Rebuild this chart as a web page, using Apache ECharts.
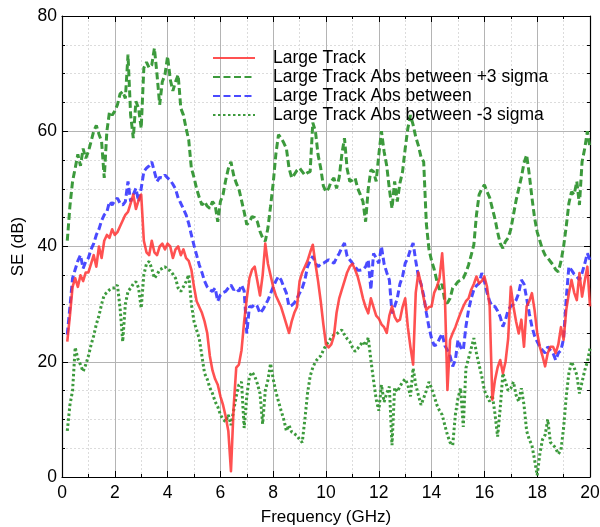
<!DOCTYPE html>
<html>
<head>
<meta charset="utf-8">
<script src="https://cdn.jsdelivr.net/npm/echarts@6/dist/echarts.min.js"></script>
<style>
  html, body { margin: 0; padding: 0; background: #fff; }
  #chart { width: 600px; height: 527px; }
</style>
</head>
<body>
<div id="chart"></div>
<script>
// Frequency grid (GHz)
const freq = [
  0.2,0.3,0.4,0.5,0.6,0.7,0.8,0.9,
  1.0,1.1,1.2,1.3,1.4,1.5,1.6,1.7,1.8,1.9,
  2.0,2.1,2.2,2.3,2.4,2.5,2.6,2.7,2.8,2.9,
  3.0,3.1,3.2,3.3,3.4,3.5,3.6,3.7,3.8,3.9,
  4.0,4.1,4.2,4.3,4.4,4.5,4.6,4.7,4.8,4.9,
  5.0,5.1,5.2,5.3,5.4,5.5,5.6,5.7,5.8,5.9,
  6.0,6.1,6.2,6.3,6.4,6.5,6.6,6.7,6.8,6.9,
  7.0,7.1,7.2,7.3,7.4,7.5,7.6,7.7,7.8,7.9,
  8.0,8.1,8.2,8.3,8.4,8.5,8.6,8.7,8.8,8.9,
  9.0,9.1,9.2,9.3,9.4,9.5,9.6,9.7,9.8,9.9,
  10.0,10.1,10.2,10.3,10.4,10.5,10.6,10.7,10.8,10.9,
  11.0,11.1,11.2,11.3,11.4,11.5,11.6,11.7,11.8,11.9,
  12.0,12.1,12.2,12.3,12.4,12.5,12.6,12.7,12.8,12.9,
  13.0,13.1,13.2,13.3,13.4,13.5,13.6,13.7,13.8,13.9,
  14.0,14.1,14.2,14.3,14.4,14.5,14.6,14.7,14.8,14.9,
  15.0,15.1,15.2,15.3,15.4,15.5,15.6,15.7,15.8,15.9,
  16.0,16.1,16.2,16.3,16.4,16.5,16.6,16.7,16.8,16.9,
  17.0,17.1,17.2,17.3,17.4,17.5,17.6,17.7,17.8,17.9,
  18.0,18.1,18.2,18.3,18.4,18.5,18.6,18.7,18.8,18.9,
  19.0,19.1,19.2,19.3,19.4,19.5,19.6,19.7,19.8,19.9,
  20.0
];

// Shielding effectiveness, Large Track (dB)
const largeTrack = [
  23.5,28,33,34.5,33,35,34,35.5,
  35.5,37,38.5,36.5,40,38,41,42,41.5,43,
  42,42.5,43.5,44.5,45.5,46,47.5,49,46.5,48,
  49,41,39,38.5,41,39,38.5,40,40.5,39.5,
  40.5,40,38,39.5,40,38.5,39.5,38,37.5,36,
  33,30.5,29.5,28.5,27,25,21,18.5,17,16,
  14,12.5,10.5,8,1,12,19,19.5,22,27,
  31,34.5,36,36.5,34,31.5,35,40.5,37,35,
  33,31.5,30.5,29.5,28,26.5,25,27,28.5,29.5,
  34,35.5,36.5,37.5,39,40.3,37,34,30.5,26.5,
  23,22.5,23,24.5,28.5,31,32.5,34,35.5,36.5,
  37,36,34.8,33,31,29.5,28.4,31,29.5,28,
  27.5,26.5,26,25,28,29.6,27.8,27,27.3,29.5,
  31,26,22.5,19.5,32,35.5,33.5,31,29,29.5,
  29.6,32,33,34.5,38.8,32,15.1,23.8,25,26,
  27.3,28.5,29.6,30.5,31,32.5,33.5,34.8,33.6,34,
  34.8,33,29.6,13.4,16.8,19,20.3,18,20,24,
  33,29.6,27,24.9,27.3,22.6,29.6,30.5,31.9,29,
  25,22.6,21,19.2,21.5,22.6,22.6,21.5,23,26,
  23.8,29,31.9,34.2,32,30.7,35.4,31.3,34,36.5,
  29.6
];

// Large Track Abs between +3 sigma (dB)
const absPlus3 = [
  41,47,51.3,53.6,56,54,57,55.3,
  56.5,58.2,60,61,59.5,58.2,51.9,60,63.4,62.8,
  63.5,64.6,66.5,66.9,65.7,73.3,62.8,58.8,65.2,64,
  60.5,71,72,71,71.5,74.4,69.8,64.6,68.6,69.8,
  73,69,67,68.6,69.8,64,62.8,60.5,58.5,53.6,
  52,50,48.5,47.2,47.8,47,46.6,47.8,47.2,44.3,
  47.8,49,51.5,53.5,54.7,52.4,51,50,48,46,
  43.8,44.3,45.2,45,44.3,42.6,41.5,40.9,43.2,47,
  51,56,59.4,58.8,58,57,53.6,51.9,52.5,53.2,
  53.6,53,52.4,52.8,53,61.5,60,55.9,53.6,50.5,
  49.5,50.1,51.3,51.9,50.1,52,56,58.8,53.5,51.3,
  51.5,51.9,50.1,49,47.8,44.3,50,53.3,53,51.3,
  55.9,60,56.5,54,50,46.6,51.3,47.8,51,53,
  57,60.5,62.8,61.1,59,57.5,55.5,54.7,44,39.5,
  37.5,36,34,32.5,33.5,30.5,30.2,31,32.8,33.3,
  33.9,34.2,34.5,35.5,36.8,38.5,40.3,45.5,49,50,
  50.7,49.5,48.5,46.6,44.8,42.5,40.5,39.7,40.9,41.5,
  43,45.5,48,50,52,54.5,55.9,52.5,48.5,45,
  42.5,41,39.5,38.5,38,37.4,36.8,36,35.6,37.4,
  40,43.5,47.5,49.5,49,51.3,47.2,54.7,57,60,
  57
];

// Large Track Abs between (dB)
const absMean = [
  24.7,29.5,34.5,36,37.5,38.5,36.2,37.4,
  38,39.5,40.5,42,43,44.5,45.5,46,47.8,47.2,
  48,48.4,47.5,47.2,47.8,51.3,47.8,49,50.1,47.8,
  50.1,53,53.6,54,54.7,53,51.3,52,51.9,52.4,
  51.9,51.5,50.8,50,48.4,47.5,46.5,45.5,44,42,
  40.2,38.5,36.8,35.5,34,33,32.5,32.2,32.8,30.5,
  31.6,32,32.2,32.8,33.3,32.5,32.8,32.2,33.3,32.3,
  24.9,29.6,29.5,30,29.6,28.4,29,29.8,30.7,31.8,
  33,34,34.8,34.2,33,31.9,29.6,29.8,30.2,31,
  31.9,32.8,34.2,36.5,37.5,38.3,37.1,36.5,37,37.1,
  37.4,37.7,37.4,37.1,38,38.8,39.8,40.6,38.3,37.7,
  37.1,36.5,35.9,35.9,36,36.5,37.7,32.5,38.8,38,
  37.1,40,37,35.5,34.2,28.4,29.6,31,33.5,34.8,
  37.1,38,39.5,40.6,37.5,34.8,33.5,31.5,28.5,26,
  24,22.8,23,24,24.9,22.8,22,21,19.2,20.3,
  23.8,22.5,22,26.1,29,31,32.5,33.2,33.6,35.4,
  34,32,30.5,29.6,29.6,28.8,27.8,26.1,27.3,29,
  29.6,30,30.7,31.9,34.2,33.5,31,28.4,26.1,24.5,
  23.5,22.6,22,21.5,22.6,22,21.5,20.3,21.5,22,
  24,31,36.5,35.9,35.2,34.8,34.2,35.4,37,38.8,
  37.7
];

// Large Track Abs between -3 sigma (dB)
const absMinus3 = [
  8,12.5,15,22.5,20.5,19.5,18.3,19.5,
  21,22.9,24.5,26.5,28,30,31.6,32,32.5,32.8,
  32.8,33.3,29.3,23.5,30,32.2,32.8,33.5,33.9,32.8,
  29.3,35.1,37,37.4,36.2,34.5,35.1,36,36.2,36.5,
  36,35.8,35.2,34.5,32.8,32.2,33,33.9,35.1,30,
  27,25.5,24,21,18,17,15.5,14.5,13.1,12.2,
  10.8,10,9.6,10.8,9,11.5,14,16,16.5,8.5,
  14,17.5,18.2,17.5,16.2,14.5,9.2,15,16.8,19.7,
  17,14.8,13.1,11.5,10,8,9,7.8,7.5,7.2,
  6.5,6,10,14.5,17.5,19,20,20.6,21,22,
  22.9,23.5,24.2,24.7,24.8,25.2,25.5,24.7,24,23.5,
  22.5,21.8,22.3,22.9,23.5,22.8,24.2,20.3,16.8,13.5,
  11.5,16,13,14.5,15.7,5.5,15.5,14.8,15.7,16.5,
  17,16,14,18.9,16,14.2,12.5,13.7,15,16.5,
  15.4,14,12.5,11.5,10.8,9,7.3,6,5.5,10.8,
  13.7,15.4,8.7,18.9,20.6,22.3,24.1,21.5,19.4,17.5,
  15,14,13.1,14.2,11,7,12,18,16.5,15,
  15.4,16.5,14.2,13.1,15.4,12.5,8,6.5,5.5,3,
  0.3,4,6.5,7.3,10,6,5.6,5,4,4.7,
  8.5,14,18,20,19,17.7,14.5,16.5,18.5,20,
  22.3
];

const seriesNames = [
  'Large Track',
  'Large Track Abs between +3 sigma',
  'Large Track Abs between',
  'Large Track Abs between -3 sigma'
];

const pair = vals => freq.map((f, i) => [f, vals[i]]);

const FONT = '"Liberation Sans", Arial, sans-serif';

const baseAxis = {
  type: 'value',
  axisLine: { show: true, onZero: false, lineStyle: { color: '#000', width: 1.2 } },
  axisTick: { show: true, inside: true, length: 6, lineStyle: { color: '#000', width: 1 } },
  minorTick: { show: true, length: 3, lineStyle: { color: '#000', width: 1 } }
};

const chart = echarts.init(document.getElementById('chart'), null, { renderer: 'canvas' });

chart.setOption({
  animation: false,
  backgroundColor: '#fff',
  textStyle: { fontFamily: FONT },
  // fixed plot box; labels and axis names sit outside it
  grid: { left: 62, right: 10, top: 16, bottom: 50, containLabel: false, outerBoundsMode: 'none' },
  legend: {
    orient: 'vertical',
    left: 207,
    top: 44,
    itemWidth: 42,
    itemHeight: 14,
    itemGap: 1,
    // line-only legend keys (no marker dot)
    itemStyle: { color: 'rgba(0,0,0,0)', borderWidth: 0, opacity: 0 },
    textStyle: { fontFamily: FONT, fontSize: 17.5, color: '#000', padding: [0, 0, 0, 13] },
    data: seriesNames
  },
  xAxis: [
    Object.assign({}, baseAxis, {
      min: 0, max: 20, interval: 2, position: 'bottom',
      minorTick: Object.assign({}, baseAxis.minorTick, { splitNumber: 2 }),
      name: 'Frequency (GHz)', nameLocation: 'middle', nameGap: 32,
      nameTextStyle: { fontFamily: FONT, fontSize: 17, color: '#000' },
      axisLabel: { fontFamily: FONT, fontSize: 17.5, color: '#000', margin: 7 },
      splitLine: { show: true, lineStyle: { color: '#b4b4b4', width: 1 } },
      minorSplitLine: { show: true, lineStyle: { color: '#dcdcdc', width: 1, type: [2, 2] } }
    }),
    Object.assign({}, baseAxis, {
      min: 0, max: 20, interval: 2, position: 'top',
      minorTick: Object.assign({}, baseAxis.minorTick, { splitNumber: 2 }),
      axisLabel: { show: false },
      splitLine: { show: false }
    })
  ],
  yAxis: [
    Object.assign({}, baseAxis, {
      min: 0, max: 80, interval: 20, position: 'left',
      minorTick: Object.assign({}, baseAxis.minorTick, { splitNumber: 4 }),
      name: 'SE (dB)', nameLocation: 'middle', nameGap: 32,
      nameTextStyle: { fontFamily: FONT, fontSize: 17, color: '#000' },
      axisLabel: { fontFamily: FONT, fontSize: 17.5, color: '#000', margin: 5 },
      splitLine: { show: true, lineStyle: { color: '#b4b4b4', width: 1 } },
      minorSplitLine: { show: true, lineStyle: { color: '#dcdcdc', width: 1, type: [2, 2] } }
    }),
    Object.assign({}, baseAxis, {
      min: 0, max: 80, interval: 20, position: 'right',
      minorTick: Object.assign({}, baseAxis.minorTick, { splitNumber: 4 }),
      axisLabel: { show: false },
      splitLine: { show: false }
    })
  ],
  series: [
    {
      name: seriesNames[0], type: 'line', symbol: 'none', z: 4,
      data: pair(largeTrack),
      lineStyle: { color: '#ff3333', width: 2.6, opacity: 0.85, join: 'round' },
      itemStyle: { color: '#ff3333' }
    },
    {
      name: seriesNames[1], type: 'line', symbol: 'none', z: 2,
      data: pair(absPlus3),
      lineStyle: { color: '#3c9a3c', width: 3, type: [7, 3.5] },
      itemStyle: { color: '#3c9a3c' }
    },
    {
      name: seriesNames[2], type: 'line', symbol: 'none', z: 3,
      data: pair(absMean),
      lineStyle: { color: '#3636ff', width: 3, type: [7, 3.5], opacity: 0.9 },
      itemStyle: { color: '#3636ff' }
    },
    {
      name: seriesNames[3], type: 'line', symbol: 'none', z: 2,
      data: pair(absMinus3),
      lineStyle: { color: '#3c9a3c', width: 3, type: [2.5, 2.5] },
      itemStyle: { color: '#3c9a3c' }
    }
  ]
});
</script>
</body>
</html>
